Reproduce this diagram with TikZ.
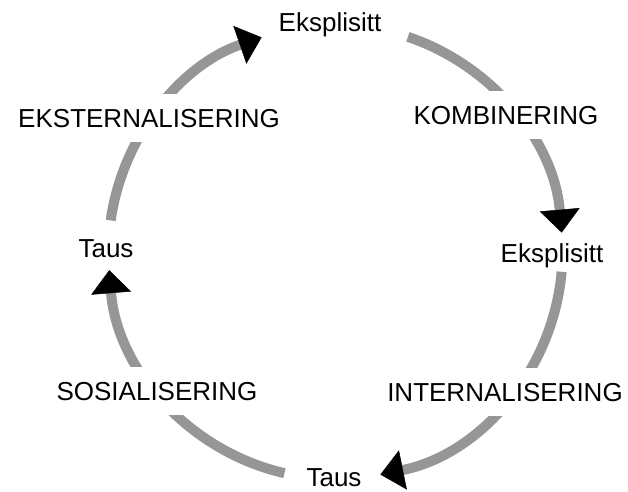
\documentclass[tikz,border=0pt]{standalone}
\usepackage{fontspec}
\setmainfont{Liberation Sans}
\usetikzlibrary{arrows.meta,calc}
\definecolor{ringgray}{RGB}{150,150,150}
\begin{document}
\begin{tikzpicture}[x=1pt,y=1pt,
  flow/.style={draw=ringgray,line width=10pt,
    -{Triangle[width=40pt,length=23pt,color=black,line width=0.5pt]}},
  phase/.style={fill=white,inner xsep=4pt,inner ysep=15pt,anchor=base,
    font=\fontsize{26}{30}\selectfont},
  state/.style={inner sep=0pt,anchor=base,font=\fontsize{26}{30}\selectfont}]
\useasboundingbox (0,0) rectangle (628,491);
\coordinate (c) at (335.5,239);
\coordinate (s1) at ($(c)+(172:227)$);
\coordinate (s2) at ($(c)+(71.4:227)$);
\coordinate (s3) at ($(c)+(-5:227)$);
\coordinate (s4) at ($(c)+(257:227)$);
\draw[flow] (s1) arc[start angle=172,end angle=109,radius=227pt];
\draw[flow] (s2) arc[start angle=71.4,end angle=4.9,radius=227pt];
\draw[flow] (s3) arc[start angle=-5,end angle=-78.6,radius=227pt];
\draw[flow] (s4) arc[start angle=257,end angle=184.6,radius=227pt];
\node[state] (topE) at (330,459) {Eksplisitt};
\node[state] (rightE) at (552,229) {Eksplisitt};
\node[state] (leftT) at (106,234) {Taus};
\node[state] (botT) at (334,5) {Taus};
\node[phase] (ext) at (149,364) {EKSTERNALISERING};
\node[phase] (komb) at (506,367) {KOMBINERING};
\node[phase] (sos) at (157,91) {SOSIALISERING};
\node[phase] (int) at (505,90) {INTERNALISERING};
\end{tikzpicture}
\end{document}
